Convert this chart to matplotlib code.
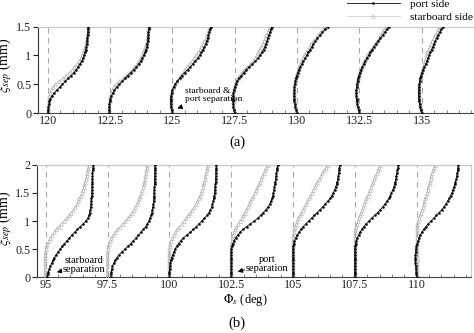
import matplotlib
matplotlib.use("Agg")
import matplotlib.pyplot as plt
from matplotlib.lines import Line2D
from matplotlib.ticker import MultipleLocator

plt.rcParams['font.family'] = ['Liberation Serif', 'DejaVu Serif']
plt.rcParams['mathtext.fontset'] = 'stix'

# ---------------- data ----------------
stations_a = [120, 122.5, 125, 127.5, 130, 132.5, 135]
stations_b = [95, 97.5, 100, 102.5, 105, 107.5, 110]

xi_a = [0.00, 0.05, 0.10, 0.15, 0.20, 0.25, 0.30, 0.35, 0.40, 0.45, 0.50, 0.55, 0.60, 0.65, 0.70, 0.75,
        0.80, 0.85, 0.90, 0.95, 1.00, 1.05, 1.10, 1.15, 1.20, 1.25, 1.30, 1.35, 1.40, 1.45, 1.50]

xi_b = [0.00, 0.05, 0.10, 0.15, 0.20, 0.25, 0.30, 0.35, 0.40, 0.45, 0.50, 0.55, 0.60, 0.65, 0.70, 0.75,
        0.80, 0.85, 0.90, 0.95, 1.00, 1.05, 1.10, 1.15, 1.20, 1.25, 1.30, 1.35, 1.40, 1.45, 1.50, 1.55,
        1.60, 1.65, 1.70, 1.75, 1.80, 1.85, 1.90, 1.95, 2.00]

# profile offsets (deg) from each station, panel (a)
port_120 = [0.00, 0.01, 0.03, 0.05, 0.07, 0.11, 0.18, 0.27, 0.37, 0.48, 0.59, 0.71, 0.82, 0.94, 1.05, 1.14,
            1.22, 1.29, 1.36, 1.42, 1.47, 1.50, 1.53, 1.55, 1.57, 1.58, 1.59, 1.60, 1.61, 1.62, 1.63]
stbd_120 = [0.00, 0.01, 0.02, 0.03, 0.04, 0.05, 0.06, 0.08, 0.13, 0.21, 0.31, 0.46, 0.61, 0.74, 0.86, 0.97,
            1.07, 1.17, 1.26, 1.33, 1.38, 1.42, 1.46, 1.49, 1.52, 1.55, 1.57, 1.59, 1.60, 1.62, 1.63]
port_122 = [-0.03, -0.03, -0.03, -0.02, -0.01, 0.02, 0.06, 0.11, 0.18, 0.27, 0.38, 0.49, 0.60, 0.71, 0.83, 0.95,
            1.06, 1.15, 1.23, 1.30, 1.35, 1.40, 1.44, 1.47, 1.49, 1.51, 1.52, 1.53, 1.54, 1.56, 1.57]
stbd_122 = [-0.03, -0.03, -0.03, -0.02, -0.01, 0.00, 0.02, 0.05, 0.09, 0.15, 0.23, 0.38, 0.53, 0.65, 0.77, 0.88,
            0.98, 1.07, 1.16, 1.23, 1.29, 1.34, 1.38, 1.42, 1.45, 1.47, 1.49, 1.51, 1.52, 1.54, 1.55]
port_125 = [0.00, -0.03, -0.05, -0.06, -0.07, -0.07, -0.05, -0.03, 0.00, 0.05, 0.11, 0.20, 0.29, 0.38, 0.49, 0.61,
            0.72, 0.82, 0.92, 1.02, 1.10, 1.17, 1.23, 1.29, 1.34, 1.38, 1.42, 1.45, 1.48, 1.51, 1.54]
stbd_125 = [0.00, -0.03, -0.05, -0.06, -0.07, -0.07, -0.06, -0.04, -0.01, 0.04, 0.10, 0.17, 0.25, 0.33, 0.41, 0.49,
            0.58, 0.67, 0.77, 0.86, 0.94, 1.02, 1.10, 1.17, 1.23, 1.29, 1.34, 1.38, 1.42, 1.46, 1.50]
port_127 = [0.00, -0.03, -0.05, -0.06, -0.07, -0.07, -0.06, -0.05, -0.03, 0.00, 0.04, 0.10, 0.18, 0.27, 0.36, 0.46,
            0.58, 0.71, 0.83, 0.93, 1.02, 1.10, 1.16, 1.21, 1.26, 1.30, 1.33, 1.37, 1.41, 1.46, 1.50]
stbd_127 = [0.00, -0.03, -0.05, -0.06, -0.07, -0.07, -0.06, -0.05, -0.03, -0.01, 0.03, 0.07, 0.12, 0.19, 0.28, 0.38,
            0.50, 0.63, 0.73, 0.81, 0.88, 0.94, 1.00, 1.06, 1.12, 1.17, 1.22, 1.27, 1.32, 1.38, 1.44]
port_130 = [0.00, -0.03, -0.06, -0.08, -0.10, -0.11, -0.12, -0.12, -0.11, -0.10, -0.08, -0.06, -0.04, -0.01, 0.03, 0.07,
            0.13, 0.19, 0.26, 0.33, 0.39, 0.46, 0.53, 0.60, 0.66, 0.74, 0.82, 0.92, 1.02, 1.12, 1.25]
stbd_130 = [0.00, -0.03, -0.06, -0.08, -0.10, -0.11, -0.12, -0.12, -0.12, -0.11, -0.10, -0.08, -0.06, -0.03, 0.00, 0.04,
            0.08, 0.13, 0.18, 0.24, 0.30, 0.37, 0.44, 0.51, 0.58, 0.66, 0.75, 0.84, 0.94, 1.04, 1.15]
port_132 = [0.00, -0.03, -0.06, -0.08, -0.10, -0.11, -0.12, -0.12, -0.12, -0.11, -0.09, -0.07, -0.05, -0.02, 0.02, 0.07,
            0.12, 0.18, 0.24, 0.31, 0.37, 0.44, 0.51, 0.59, 0.67, 0.76, 0.85, 0.94, 1.02, 1.10, 1.18]
stbd_132 = [0.00, -0.03, -0.06, -0.08, -0.10, -0.11, -0.12, -0.12, -0.12, -0.11, -0.10, -0.08, -0.06, -0.03, 0.00, 0.04,
            0.09, 0.14, 0.19, 0.25, 0.31, 0.38, 0.46, 0.54, 0.62, 0.70, 0.78, 0.86, 0.93, 1.00, 1.07]
port_135 = [0.00, -0.03, -0.06, -0.08, -0.10, -0.11, -0.12, -0.12, -0.12, -0.11, -0.10, -0.08, -0.06, -0.03, 0.01, 0.06,
            0.11, 0.16, 0.21, 0.26, 0.31, 0.35, 0.40, 0.45, 0.50, 0.55, 0.60, 0.66, 0.72, 0.79, 0.86]
stbd_135 = [0.00, -0.03, -0.06, -0.08, -0.10, -0.11, -0.12, -0.12, -0.12, -0.11, -0.10, -0.08, -0.06, -0.04, -0.01, 0.03,
            0.06, 0.10, 0.13, 0.16, 0.19, 0.23, 0.27, 0.32, 0.37, 0.42, 0.48, 0.54, 0.60, 0.67, 0.73]

# panel (b)
port_95 = [0.05, 0.08, 0.11, 0.15, 0.19, 0.24, 0.29, 0.35, 0.42, 0.50, 0.58, 0.67, 0.76, 0.86, 0.96, 1.06,
           1.17, 1.28, 1.40, 1.52, 1.62, 1.70, 1.75, 1.78, 1.80, 1.82, 1.83, 1.84, 1.85, 1.86, 1.86, 1.87,
           1.87, 1.88, 1.88, 1.88, 1.89, 1.89, 1.90, 1.91, 1.92]
stbd_95 = [-0.03, -0.03, -0.03, -0.03, -0.03, -0.03, -0.03, -0.03, -0.02, -0.02, 0.00, 0.03, 0.07, 0.12, 0.18, 0.25,
           0.33, 0.42, 0.52, 0.63, 0.74, 0.85, 0.95, 1.04, 1.12, 1.19, 1.25, 1.31, 1.36, 1.41, 1.45, 1.49,
           1.53, 1.56, 1.59, 1.62, 1.65, 1.67, 1.70, 1.72, 1.74]
port_97 = [0.13, 0.14, 0.15, 0.17, 0.20, 0.25, 0.31, 0.38, 0.47, 0.58, 0.70, 0.82, 0.94, 1.05, 1.15, 1.25,
           1.35, 1.45, 1.54, 1.61, 1.67, 1.72, 1.76, 1.79, 1.81, 1.83, 1.85, 1.86, 1.87, 1.88, 1.88, 1.89,
           1.89, 1.90, 1.90, 1.90, 1.91, 1.91, 1.91, 1.91, 1.91]
stbd_97 = [-0.01, -0.01, -0.01, -0.01, -0.01, -0.01, -0.01, -0.01, -0.01, -0.01, 0.00, 0.02, 0.05, 0.10, 0.16, 0.23,
           0.31, 0.40, 0.50, 0.61, 0.72, 0.82, 0.91, 0.99, 1.06, 1.12, 1.18, 1.24, 1.29, 1.33, 1.37, 1.40,
           1.43, 1.46, 1.48, 1.50, 1.52, 1.54, 1.56, 1.58, 1.59]
port_100 = [0.00, 0.00, 0.00, 0.01, 0.02, 0.04, 0.06, 0.09, 0.13, 0.18, 0.23, 0.29, 0.37, 0.46, 0.57, 0.70,
            0.84, 0.97, 1.09, 1.20, 1.31, 1.42, 1.52, 1.60, 1.66, 1.71, 1.74, 1.77, 1.79, 1.81, 1.83, 1.84,
            1.85, 1.86, 1.87, 1.87, 1.88, 1.88, 1.88, 1.89, 1.89]
stbd_100 = [-0.02, -0.02, -0.02, -0.02, -0.02, -0.02, -0.02, -0.02, -0.02, -0.01, 0.00, 0.01, 0.03, 0.06, 0.11, 0.17,
            0.24, 0.32, 0.41, 0.50, 0.59, 0.68, 0.77, 0.85, 0.93, 1.00, 1.07, 1.13, 1.18, 1.23, 1.28, 1.32,
            1.35, 1.38, 1.41, 1.44, 1.46, 1.49, 1.51, 1.53, 1.55]
port_102 = [0.00, 0.00, 0.00, 0.00, 0.00, 0.00, 0.00, 0.00, 0.00, 0.00, 0.01, 0.03, 0.06, 0.11, 0.18, 0.26,
            0.36, 0.48, 0.62, 0.78, 0.94, 1.07, 1.19, 1.30, 1.40, 1.49, 1.56, 1.61, 1.65, 1.68, 1.71, 1.73,
            1.75, 1.77, 1.78, 1.80, 1.81, 1.83, 1.85, 1.86, 1.88]
stbd_102 = [-0.01, -0.01, -0.01, -0.01, -0.01, -0.01, -0.01, -0.01, -0.01, -0.01, -0.01, -0.01, 0.00, 0.02, 0.04, 0.07,
            0.11, 0.15, 0.20, 0.27, 0.34, 0.42, 0.49, 0.55, 0.61, 0.67, 0.72, 0.78, 0.84, 0.90, 0.95, 1.01,
            1.06, 1.11, 1.16, 1.21, 1.26, 1.31, 1.36, 1.42, 1.47]
port_105 = [0.00, 0.00, 0.00, 0.00, 0.00, 0.00, 0.00, 0.00, 0.00, 0.00, 0.00, 0.01, 0.03, 0.06, 0.11, 0.17,
            0.24, 0.32, 0.41, 0.52, 0.63, 0.75, 0.86, 0.98, 1.09, 1.20, 1.30, 1.40, 1.49, 1.57, 1.63, 1.68,
            1.72, 1.76, 1.79, 1.81, 1.83, 1.85, 1.87, 1.88, 1.89]
stbd_105 = [-0.01, -0.01, -0.01, -0.01, -0.01, -0.01, -0.01, -0.01, -0.01, -0.01, -0.01, -0.01, -0.01, -0.01, 0.00, 0.01,
            0.03, 0.05, 0.08, 0.12, 0.17, 0.22, 0.28, 0.34, 0.40, 0.46, 0.52, 0.58, 0.64, 0.70, 0.76, 0.81,
            0.87, 0.93, 0.99, 1.05, 1.12, 1.19, 1.26, 1.33, 1.40]
port_107 = [0.00, 0.00, 0.00, 0.00, 0.00, 0.00, 0.00, 0.00, 0.00, 0.00, 0.00, 0.01, 0.03, 0.06, 0.10, 0.15,
            0.21, 0.28, 0.36, 0.46, 0.57, 0.68, 0.80, 0.92, 1.03, 1.13, 1.22, 1.30, 1.37, 1.43, 1.48, 1.53,
            1.57, 1.61, 1.64, 1.66, 1.68, 1.70, 1.72, 1.74, 1.75]
stbd_107 = [-0.01, -0.01, -0.01, -0.01, -0.01, -0.01, -0.01, -0.01, -0.01, -0.01, -0.01, -0.01, -0.01, -0.01, -0.01, -0.01,
            0.00, 0.02, 0.05, 0.08, 0.11, 0.15, 0.19, 0.24, 0.29, 0.34, 0.38, 0.43, 0.47, 0.52, 0.56, 0.60,
            0.65, 0.69, 0.74, 0.79, 0.83, 0.88, 0.92, 0.97, 1.01]
port_110 = [0.00, -0.01, -0.02, -0.03, -0.04, -0.05, -0.05, -0.05, -0.05, -0.04, -0.03, -0.01, 0.02, 0.06, 0.10, 0.15,
            0.21, 0.28, 0.37, 0.47, 0.58, 0.69, 0.80, 0.91, 1.01, 1.10, 1.18, 1.25, 1.31, 1.37, 1.42, 1.46,
            1.50, 1.54, 1.57, 1.60, 1.62, 1.64, 1.66, 1.67, 1.68]
stbd_110 = [0.00, 0.00, 0.00, 0.00, 0.00, 0.00, 0.00, 0.00, 0.00, 0.00, 0.00, 0.00, 0.00, 0.00, 0.00, 0.00,
            0.00, 0.00, 0.01, 0.03, 0.06, 0.09, 0.13, 0.17, 0.21, 0.25, 0.28, 0.31, 0.35, 0.38, 0.41, 0.44,
            0.47, 0.50, 0.53, 0.56, 0.59, 0.62, 0.66, 0.70, 0.74]

ticks_a = ['120', '122.5', '125', '127.5', '130', '132.5', '135']
ticks_b = ['95', '97.5', '100', '102.5', '105', '107.5', '110']

ports_a = [port_120, port_122, port_125, port_127, port_130, port_132, port_135]
stbds_a = [stbd_120, stbd_122, stbd_125, stbd_127, stbd_130, stbd_132, stbd_135]
ports_b = [port_95, port_97, port_100, port_102, port_105, port_107, port_110]
stbds_b = [stbd_95, stbd_97, stbd_100, stbd_102, stbd_105, stbd_107, stbd_110]

# ---------------- figure ----------------
W, H = 474, 333
fig = plt.figure(figsize=(W / 100, H / 100), dpi=100)

PORT_KW = dict(color='#111111', lw=0.6, marker='o', ms=1.5, mfc='black', mec='black', mew=0.3, zorder=4)
STBD_KW = dict(color='#c4c4c4', lw=0.5, marker='^', ms=2.6, mfc='none', mec='#b8b8b8', mew=0.5, zorder=3)
DASH = '#a8a8a8'
TICK_FS = 8.7


def setup(ax, stations, labels, ylim, yticks, xlim, right_visible):
    ax.set_xlim(*xlim)
    ax.set_ylim(*ylim)
    for s in stations:
        ax.axvline(s, color=DASH, lw=0.8, ls=(0, (5, 4)), zorder=1)
    ax.set_xticks(stations)
    ax.set_xticklabels(labels)
    ax.xaxis.set_minor_locator(MultipleLocator(0.5))
    ax.tick_params(axis='x', which='major', direction='in', length=3, width=0.6, pad=1.5,
                   labelsize=TICK_FS, colors='#222222')
    ax.tick_params(axis='x', which='minor', direction='in', length=2, width=0.5, colors='#555555')
    ax.set_yticks(yticks)
    ax.set_yticklabels(['0', '0.5', '1', '1.5', '2'][:len(yticks)])
    ax.tick_params(axis='y', direction='out', length=3.5, width=0.8, pad=1, labelsize=TICK_FS,
                   colors='#222222')
    ax.spines['left'].set_color('#333333')
    ax.spines['left'].set_linewidth(0.8)
    ax.spines['bottom'].set_color('#444444')
    ax.spines['bottom'].set_linewidth(0.8)
    ax.spines['top'].set_color('#cccccc')
    ax.spines['top'].set_linewidth(1.0)
    ax.spines['right'].set_color('#cccccc')
    ax.spines['right'].set_visible(right_visible)


# panel (a)
ax_a = fig.add_axes([37.7 / W, 1 - 113 / H, 440.3 / W, 86.5 / H])
setup(ax_a, stations_a, ticks_a, (0, 1.5), [0, 0.5, 1, 1.5], (119.6, 119.6 + 440.3 / 24.93), False)
for s, p, q in zip(stations_a, ports_a, stbds_a):
    ax_a.plot([s + v for v in q], xi_a, **STBD_KW)
    ax_a.plot([s + v for v in p], xi_a, **PORT_KW)

ax_a.annotate('starboard &\nport separation', xy=(125.2, 0.08), xytext=(125.5, 0.31),
              fontsize=6.8, ha='left', va='center', linespacing=0.95,
              arrowprops=dict(arrowstyle='-|>', color='black', lw=0.7, mutation_scale=7,
                              shrinkA=3, shrinkB=0))

# panel (b)
ax_b = fig.add_axes([36.7 / W, 1 - 277.3 / H, 434 / W, 112.6 / H])
setup(ax_b, stations_b, ticks_b, (0, 2), [0, 0.5, 1, 1.5, 2], (94.636, 94.636 + 434 / 24.73), True)
for s, p, q in zip(stations_b, ports_b, stbds_b):
    ax_b.plot([s + v for v in q], xi_b, **STBD_KW)
    ax_b.plot([s + v for v in p], xi_b, **PORT_KW)

ax_b.annotate('starboard\nseparation', xy=(95.45, 0.09), xytext=(96.55, 0.22),
              fontsize=7.5, ha='center', va='center', linespacing=0.95,
              bbox=dict(boxstyle='square,pad=0.05', fc='white', ec='none'),
              arrowprops=dict(arrowstyle='-|>', color='black', lw=0.7, mutation_scale=7,
                              shrinkA=14, shrinkB=0), zorder=6)
ax_b.annotate('port\nseparation', xy=(102.76, 0.10), xytext=(103.96, 0.24),
              fontsize=7.5, ha='center', va='center', linespacing=0.95,
              bbox=dict(boxstyle='square,pad=0.05', fc='white', ec='none'),
              arrowprops=dict(arrowstyle='-|>', color='black', lw=0.7, mutation_scale=7,
                              shrinkA=14, shrinkB=0), zorder=6)

# labels
fig.text(5 / W, 1 - 65 / H, r'$\xi_{sep}$ (mm)', rotation=90, ha='center', va='center', fontsize=10)
fig.text(5 / W, 1 - 218 / H, r'$\xi_{sep}$ (mm)', rotation=90, ha='center', va='center', fontsize=10)
fig.text(237 / W, 1 - 142 / H, '(a)', ha='center', va='center', fontsize=10.5)
fig.text(245 / W, 1 - 299.5 / H, r'$\Phi_s$ (deg)', ha='center', va='center', fontsize=9)
fig.text(237 / W, 1 - 323 / H, '(b)', ha='center', va='center', fontsize=10.5)

# legend
handles = [Line2D([], [], **{k: v for k, v in PORT_KW.items() if k != 'zorder'}),
           Line2D([], [], **{k: v for k, v in STBD_KW.items() if k != 'zorder'})]
fig.legend(handles, ['port side', 'starboard side'], loc='upper right',
           bbox_to_anchor=(1.0, 1.005), frameon=False, fontsize=8.2, numpoints=1,
           handlelength=4.6, handletextpad=0.9, labelspacing=0.2, borderpad=0.1,
           borderaxespad=0.0)

fig.savefig('out.png', dpi=100)
